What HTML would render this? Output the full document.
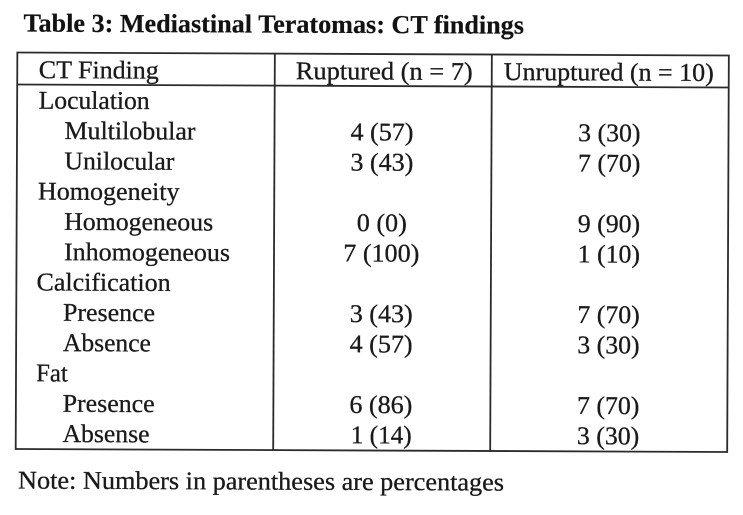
<!DOCTYPE html>
<html>
<head>
<meta charset="utf-8">
<style>
  html, body { margin: 0; padding: 0; background: #ffffff; }
  body { width: 743px; height: 515px; overflow: hidden; }
  svg { display: block; }
  text { font-family: "Liberation Serif", "Times New Roman", serif; fill: #1a1a1a; }
  .t { font-size: 25.5px; stroke: #1a1a1a; stroke-width: 0.3; }
  .b { font-size: 26px; font-weight: bold; fill: #121212; stroke: #121212; stroke-width: 0.2; }
</style>
</head>
<body>
<svg width="743" height="515" viewBox="0 0 743 515" xmlns="http://www.w3.org/2000/svg">
  <rect x="0" y="0" width="743" height="515" fill="#ffffff"/>
  <g transform="rotate(0.24 371 257)">
    <!-- Title -->
    <text class="b" x="22.5" y="33" textLength="500.5" lengthAdjust="spacingAndGlyphs">Table 3: Mediastinal Teratomas: CT findings</text>

    <!-- Table lines -->
    <g stroke="#2b2b2b" stroke-width="1.8" fill="none">
      <rect x="16.5" y="54" width="711.5" height="396.5"/>
      <line x1="16.5" y1="86" x2="728" y2="86"/>
      <line x1="274" y1="54" x2="274" y2="450.5"/>
      <line x1="491" y1="54" x2="491" y2="450.5"/>
    </g>

    <!-- Header -->
    <text class="t" x="38" y="79.5" textLength="120" lengthAdjust="spacingAndGlyphs">CT Finding</text>
    <text class="t" x="295" y="79.5" textLength="177" lengthAdjust="spacingAndGlyphs">Ruptured (n = 7)</text>
    <text class="t" x="503" y="79.5" textLength="210" lengthAdjust="spacingAndGlyphs">Unruptured (n = 10)</text>

    <!-- Row labels -->
    <text class="t" x="38" y="110" textLength="111" lengthAdjust="spacingAndGlyphs">Loculation</text>
    <text class="t" x="64" y="140.3" textLength="131" lengthAdjust="spacingAndGlyphs">Multilobular</text>
    <text class="t" x="64" y="170.6" textLength="110" lengthAdjust="spacingAndGlyphs">Unilocular</text>
    <text class="t" x="37.7" y="200.9" textLength="141.6" lengthAdjust="spacingAndGlyphs">Homogeneity</text>
    <text class="t" x="64" y="231.2" textLength="149" lengthAdjust="spacingAndGlyphs">Homogeneous</text>
    <text class="t" x="64" y="261.5" textLength="166" lengthAdjust="spacingAndGlyphs">Inhomogeneous</text>
    <text class="t" x="36.7" y="291.8" textLength="134" lengthAdjust="spacingAndGlyphs">Calcification</text>
    <text class="t" x="63.3" y="322.1" textLength="92" lengthAdjust="spacingAndGlyphs">Presence</text>
    <text class="t" x="63.3" y="352.4" textLength="88" lengthAdjust="spacingAndGlyphs">Absence</text>
    <text class="t" x="36.7" y="382.7" textLength="31.6" lengthAdjust="spacingAndGlyphs">Fat</text>
    <text class="t" x="63.3" y="413" textLength="92" lengthAdjust="spacingAndGlyphs">Presence</text>
    <text class="t" x="63.3" y="443.3" textLength="87" lengthAdjust="spacingAndGlyphs">Absense</text>

    <!-- Ruptured column -->
    <text class="t" x="350" y="140.3" textLength="63" lengthAdjust="spacingAndGlyphs">4 (57)</text>
    <text class="t" x="350" y="170.6" textLength="63" lengthAdjust="spacingAndGlyphs">3 (43)</text>
    <text class="t" x="356.7" y="231.2" textLength="50" lengthAdjust="spacingAndGlyphs">0 (0)</text>
    <text class="t" x="343.3" y="261.5" textLength="76" lengthAdjust="spacingAndGlyphs">7 (100)</text>
    <text class="t" x="350" y="322.1" textLength="63" lengthAdjust="spacingAndGlyphs">3 (43)</text>
    <text class="t" x="350" y="352.4" textLength="63" lengthAdjust="spacingAndGlyphs">4 (57)</text>
    <text class="t" x="350" y="413" textLength="63" lengthAdjust="spacingAndGlyphs">6 (86)</text>
    <text class="t" x="351.5" y="443.3" textLength="61" lengthAdjust="spacingAndGlyphs">1 (14)</text>

    <!-- Unruptured column -->
    <text class="t" x="577.7" y="140.3" textLength="62.3" lengthAdjust="spacingAndGlyphs">3 (30)</text>
    <text class="t" x="577.7" y="170.6" textLength="62.3" lengthAdjust="spacingAndGlyphs">7 (70)</text>
    <text class="t" x="577.7" y="231.2" textLength="62.3" lengthAdjust="spacingAndGlyphs">9 (90)</text>
    <text class="t" x="577.7" y="261.5" textLength="62.3" lengthAdjust="spacingAndGlyphs">1 (10)</text>
    <text class="t" x="577.7" y="322.1" textLength="62.3" lengthAdjust="spacingAndGlyphs">7 (70)</text>
    <text class="t" x="577.7" y="352.4" textLength="62.3" lengthAdjust="spacingAndGlyphs">3 (30)</text>
    <text class="t" x="577.7" y="413" textLength="62.3" lengthAdjust="spacingAndGlyphs">7 (70)</text>
    <text class="t" x="577.7" y="443.3" textLength="62.3" lengthAdjust="spacingAndGlyphs">3 (30)</text>

    <!-- Note -->
    <text class="t" x="19" y="490" textLength="486" lengthAdjust="spacingAndGlyphs">Note: Numbers in parentheses are percentages</text>
  </g>
</svg>
</body>
</html>
